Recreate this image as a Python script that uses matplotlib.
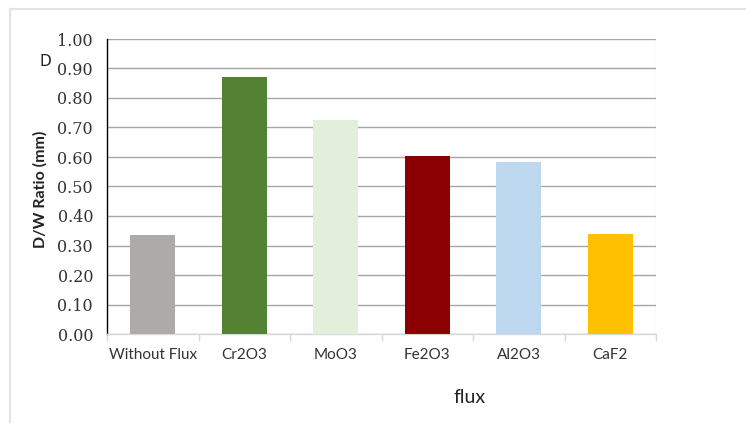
import matplotlib
matplotlib.use("Agg")
import matplotlib.pyplot as plt
from matplotlib.lines import Line2D

categories = ["Without Flux", "Cr2O3", "MoO3", "Fe2O3", "Al2O3", "CaF2"]
dw_ratio = [0.336, 0.871, 0.724, 0.605, 0.583, 0.339]
bar_colors = ["#AEAAAA", "#548235", "#E2EFDA", "#8B0000", "#BDD7EE", "#FFC000"]
y_ticks = [0.0, 0.1, 0.2, 0.3, 0.4, 0.5, 0.6, 0.7, 0.8, 0.9, 1.0]

fig = plt.figure(figsize=(7.46, 4.23), dpi=100)
fig.patch.set_facecolor("white")

# light outer frame of the chart area
frame_color = "#E1E5EA"
fig.add_artist(Line2D([10 / 746, 10 / 746], [0, 1 - 9 / 423], transform=fig.transFigure,
                      color=frame_color, lw=1.5))
fig.add_artist(Line2D([10 / 746, 1], [1 - 9 / 423, 1 - 9 / 423], transform=fig.transFigure,
                      color=frame_color, lw=1.5))

ax = fig.add_axes([107 / 746, 89 / 423, 549 / 746, 295 / 423])
x = range(len(categories))
ax.bar(x, dw_ratio, width=0.49, color=bar_colors, zorder=3)

ax.set_xlim(-0.5, len(categories) - 0.5)
ax.set_ylim(0, 1.0)
ax.set_yticks(y_ticks)
ax.set_yticklabels([f"{v:.2f}" for v in y_ticks], family="DejaVu Serif", fontsize=11.5,
                   color="#333333")
ax.tick_params(axis="y", length=0, pad=10)

ax.set_xticks(list(x))
ax.set_xticklabels(categories, family="Lato", fontsize=11, color="#333333")
ax.tick_params(axis="x", length=0, pad=10)
# category separator ticks on the x axis
ax.set_xticks([i - 0.5 for i in range(len(categories) + 1)], minor=True)
ax.tick_params(axis="x", which="minor", length=5, color="#D9D9D9", width=1)

ax.grid(axis="y", color="#A6A6A6", lw=1, zorder=0)
for side in ["top", "right"]:
    ax.spines[side].set_visible(False)
ax.spines["left"].set_color("black")
ax.spines["left"].set_linewidth(1)
ax.spines["bottom"].set_color("#D9D9D9")
ax.spines["bottom"].set_linewidth(1)
ax.axvline(len(categories) - 0.5, color="#EDEDED", lw=1, zorder=0)

ax.set_ylabel("D/W Ratio (mm)", family="Lato", fontsize=11.5, fontweight="bold",
              color="#222222")
ax.yaxis.set_label_coords(-0.109, 0.49)
ax.set_xlabel("flux", family="Lato", fontsize=14, color="#222222")
ax.xaxis.set_label_coords(0.661, -0.185)

fig.text(45 / 746, 1 - 62 / 423, "D", family="DejaVu Sans", fontsize=11, color="#222222",
         ha="center", va="center")

fig.savefig("out.png", dpi=100, facecolor="white")
